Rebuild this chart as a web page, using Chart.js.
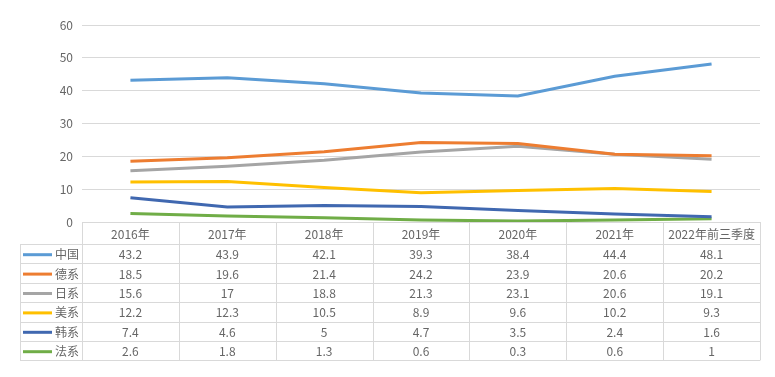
<!DOCTYPE html>
<html>
<head>
<meta charset="utf-8">
<script src="https://cdn.jsdelivr.net/npm/chart.js@4/dist/chart.umd.min.js"></script>
<style>
  html, body { margin: 0; padding: 0; background: #fff; }
  #box { width: 775px; height: 377px; }
</style>
</head>
<body>
<div id="box"><canvas id="shareChart"></canvas></div>
<script>
// danh mục trục x (năm)
const years = ["2016年", "2017年", "2018年", "2019年", "2020年", "2021年", "2022年前三季度"];
// tên các dòng
const seriesNames = ["中国", "德系", "日系", "美系", "韩系", "法系"];
// số liệu từng dòng
const china = [43.2, 43.9, 42.1, 39.3, 38.4, 44.4, 48.1];
const german = [18.5, 19.6, 21.4, 24.2, 23.9, 20.6, 20.2];
const japan = [15.6, 17, 18.8, 21.3, 23.1, 20.6, 19.1];
const usa = [12.2, 12.3, 10.5, 8.9, 9.6, 10.2, 9.3];
const korea = [7.4, 4.6, 5, 4.7, 3.5, 2.4, 1.6];
const france = [2.6, 1.8, 1.3, 0.6, 0.3, 0.6, 1];
// nhãn trục y
const yTicks = [0, 10, 20, 30, 40, 50, 60];

const allValues = [china, german, japan, usa, korea, france];
const colors = ["#5B9BD5", "#ED7D31", "#A5A5A5", "#FFC000", "#4068B0", "#70AD47"];

const textColor = "#666666";
const lineColor = "#d9d9d9";
const fontFamily = "'Noto Sans CJK SC', 'DejaVu Sans', sans-serif";

// plugin vẽ bảng số liệu bên dưới biểu đồ
const dataTable = {
  id: "dataTable",
  afterDraw(chart) {
    const ctx = chart.ctx;
    const x = chart.scales.x;
    const area = chart.chartArea;
    const colW = (area.right - area.left) / years.length;
    const top = area.bottom;
    const headH = 22;
    const rowH = 19.4;
    const bodyTop = top + headH;
    const bottom = bodyTop + rowH * seriesNames.length;
    const legendLeft = 20;

    ctx.save();
    ctx.strokeStyle = lineColor;
    ctx.lineWidth = 1;
    ctx.beginPath();
    // đường ngang
    ctx.moveTo(area.left, top + 0.5);
    ctx.lineTo(area.right, top + 0.5);
    for (let i = 0; i <= seriesNames.length; i++) {
      const y = Math.round(bodyTop + rowH * i) + 0.5;
      ctx.moveTo(legendLeft, y);
      ctx.lineTo(area.right, y);
    }
    // đường dọc
    for (let i = 0; i <= years.length; i++) {
      const xx = Math.round(area.left + colW * i) + 0.5;
      ctx.moveTo(xx, top);
      ctx.lineTo(xx, bottom);
    }
    ctx.moveTo(legendLeft + 0.5, bodyTop);
    ctx.lineTo(legendLeft + 0.5, bottom);
    ctx.stroke();

    ctx.font = "12px " + fontFamily;
    ctx.fillStyle = textColor;
    ctx.textAlign = "center";
    ctx.textBaseline = "middle";
    years.forEach((y, i) => {
      ctx.fillText(y, x.getPixelForValue(i), top + headH / 2 + 1);
    });

    seriesNames.forEach((name, r) => {
      const cy = bodyTop + rowH * r + rowH / 2 + 1;
      // ký hiệu chú thích
      ctx.strokeStyle = colors[r];
      ctx.lineWidth = 3;
      ctx.beginPath();
      ctx.moveTo(23, cy);
      ctx.lineTo(52, cy);
      ctx.stroke();
      ctx.fillStyle = textColor;
      ctx.textAlign = "left";
      ctx.fillText(name, 55, cy);
      ctx.textAlign = "center";
      allValues[r].forEach((v, i) => {
        ctx.fillText(String(v), x.getPixelForValue(i), cy);
      });
    });
    ctx.restore();
  }
};

const ctx = document.getElementById("shareChart").getContext("2d");
const myChart = new Chart(ctx, {
  type: "line",
  data: {
    labels: years,
    datasets: seriesNames.map((name, i) => ({
      label: name,
      data: allValues[i],
      borderColor: colors[i],
      backgroundColor: colors[i],
      borderWidth: 3,
      pointRadius: 0,
      tension: 0
    }))
  },
  options: {
    responsive: true,
    maintainAspectRatio: false,
    animation: false,
    layout: { padding: { top: 25, right: 15, bottom: 155, left: 0 } },
    plugins: {
      legend: { display: false },
      tooltip: { enabled: false }
    },
    scales: {
      x: {
        display: false,
        offset: true
      },
      y: {
        min: 0,
        max: 60,
        afterFit(scale) { scale.width = 82; },
        afterBuildTicks(scale) { scale.ticks = yTicks.map(v => ({ value: v })); },
        border: { display: false },
        grid: { color: lineColor, drawTicks: false },
        ticks: {
          color: textColor,
          padding: 9,
          font: { size: 12, family: fontFamily }
        }
      }
    }
  },
  plugins: [dataTable]
});
</script>
</body>
</html>
